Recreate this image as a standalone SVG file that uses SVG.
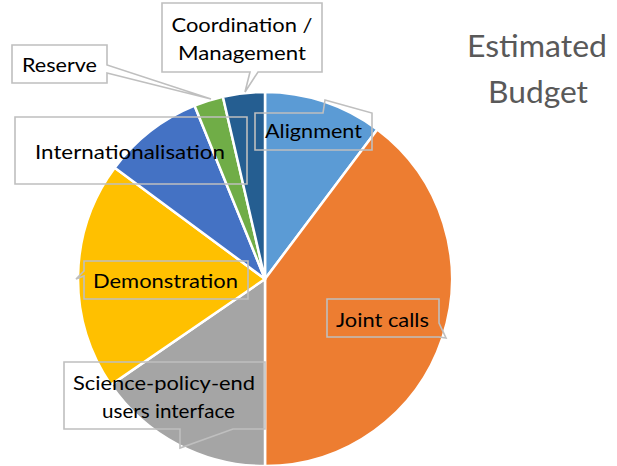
<svg xmlns="http://www.w3.org/2000/svg" width="617" height="466" viewBox="0 0 617 466">
<style>
.slice{stroke:#FFFFFF;stroke-width:2.5;stroke-linejoin:round}
.box{fill:none;stroke:#BFBFBF;stroke-width:1.6}
.lbl{font-family:Lato,"Open Sans","Liberation Sans",sans-serif;font-size:20px;fill:#000000;text-anchor:middle}
.title{font-family:Lato,"Open Sans","Liberation Sans",sans-serif;font-size:31px;fill:#595959;text-anchor:middle}
</style>
<rect width="617" height="466" fill="#FFFFFF"/>
<g id="pie">
<path id="slice-alignment" class="slice" fill="#5B9BD5" d="M265,279 L265,92 A187,187 0 0 1 377.3,129.5 Z"/>
<path id="slice-joint" class="slice" fill="#ED7D31" d="M265,279 L377.3,129.5 A187,187 0 0 1 265,466 Z"/>
<path id="slice-science" class="slice" fill="#A5A5A5" d="M265,279 L265,466 A187,187 0 0 1 110.9,384.9 Z"/>
<path id="slice-demo" class="slice" fill="#FFC000" d="M265,279 L110.9,384.9 A187,187 0 0 1 114.7,167.8 Z"/>
<path id="slice-intl" class="slice" fill="#4472C4" d="M265,279 L114.7,167.8 A187,187 0 0 1 194.6,105.7 Z"/>
<path id="slice-reserve" class="slice" fill="#70AD47" d="M265,279 L194.6,105.7 A187,187 0 0 1 222.9,96.8 Z"/>
<path id="slice-coord" class="slice" fill="#255E91" d="M265,279 L222.9,96.8 A187,187 0 0 1 265,92 Z"/>
</g>
<g id="connectors">
<path class="box" d="M162,3 H322 V72 H258 L245,92 L250,72 H162 Z"/>
<path class="box" d="M12,45 H107 V65 L211,99 L107,73 V83 H12 Z"/>
<path class="box" d="M15,117 H247 V184 H15 Z"/>
<path class="box" d="M255,113 H323 L325,100 L372,113 V150 H255 Z"/>
<path class="box" d="M84,261 H248 V299 H84 V276 L76,279 L84,271 Z"/>
<path class="box" d="M64,362 H265 V429 H233 L180,448 V429 H64 Z"/>
<path class="box" d="M327,299 H439 V323 L446,338 L439,337 H327 Z"/>
</g>
<g id="label-coordination">
<text class="lbl" x="242" y="32" textLength="141" lengthAdjust="spacingAndGlyphs">Coordination /</text>
<text class="lbl" x="242" y="60" textLength="128" lengthAdjust="spacingAndGlyphs">Management</text>
</g>
<g id="label-reserve">
<text class="lbl" x="59.5" y="72" textLength="75" lengthAdjust="spacingAndGlyphs">Reserve</text>
</g>
<g id="label-internationalisation">
<text class="lbl" x="130" y="159" textLength="190" lengthAdjust="spacingAndGlyphs">Internationalisation</text>
</g>
<g id="label-alignment">
<text class="lbl" x="313.5" y="138" textLength="97" lengthAdjust="spacingAndGlyphs">Alignment</text>
</g>
<g id="label-demonstration">
<text class="lbl" x="165.5" y="288" textLength="145" lengthAdjust="spacingAndGlyphs">Demonstration</text>
</g>
<g id="label-science">
<text class="lbl" x="164" y="390" textLength="182" lengthAdjust="spacingAndGlyphs">Science-policy-end</text>
<text class="lbl" x="168.5" y="418" textLength="133" lengthAdjust="spacingAndGlyphs">users interface</text>
</g>
<g id="label-joint">
<text class="lbl" x="382.5" y="327" textLength="93" lengthAdjust="spacingAndGlyphs">Joint calls</text>
</g>
<g id="title">
<text class="title" x="537" y="57" textLength="140" lengthAdjust="spacingAndGlyphs">Estimated</text>
<text class="title" x="538" y="103" textLength="100" lengthAdjust="spacingAndGlyphs">Budget</text>
</g>
</svg>
